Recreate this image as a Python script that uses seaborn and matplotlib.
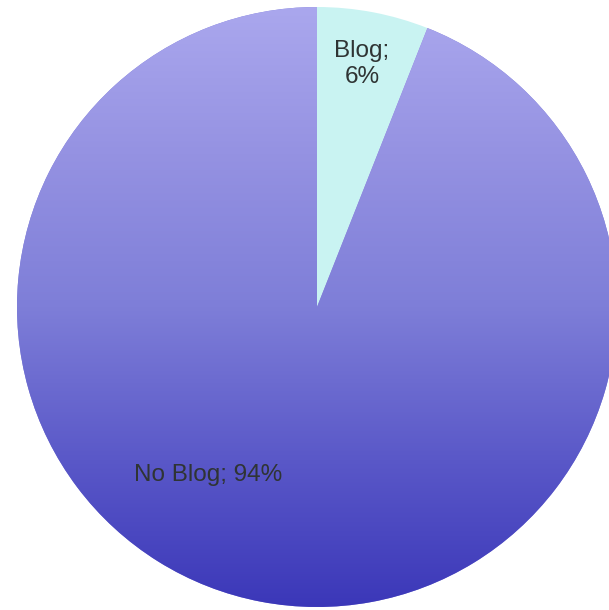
import numpy as np
import matplotlib
matplotlib.use("Agg")
import matplotlib.pyplot as plt
from matplotlib.colors import LinearSegmentedColormap
import seaborn as sns

# data
categories = ["Blog", "No Blog"]
shares = [6, 94]
slice_colors = ["#c9f3f2", "#7d7dd8"]

sns.set_theme(style="white")
plt.rcParams['font.family'] = ['Liberation Sans', 'DejaVu Sans']

fig = plt.figure(figsize=(6.09, 6.10), dpi=100)
ax = fig.add_axes([0, 0, 1, 1])

wedges, _ = ax.pie(shares, colors=slice_colors, startangle=90, counterclock=False,
                   radius=1.0, wedgeprops=dict(linewidth=0))

# vertical gradient on the big slice
grad_cmap = LinearSegmentedColormap.from_list(
    "blue_grad", ["#3a36b8", "#5a58c8", "#7e7ed8", "#9592e2", "#aba8ee"])
grad = np.linspace(0, 1, 256).reshape(-1, 1)
img = ax.imshow(grad, cmap=grad_cmap, origin="lower", aspect="auto",
                extent=(-1.05, 1.05, -1.02, 1.02), zorder=wedges[1].get_zorder() + 0.1)
img.set_clip_path(wedges[1])

# labels
ax.text(0.15, 0.81, f"{categories[0]};\n{shares[0]}%", ha="center", va="center",
        fontsize=17.5, color="#2f3434", linespacing=1.2, zorder=5)
ax.text(-0.363, -0.56, f"{categories[1]}; {shares[1]}%", ha="center", va="center",
        fontsize=17.5, color="#2f3434", zorder=5)

# place circle: center at (317, 307) px, radius 300 px
ax.set_xlim(-317 / 300, (609 - 317) / 300)
ax.set_ylim(-(610 - 307) / 300, 307 / 300)
ax.set_aspect("auto")
ax.axis("off")

fig.savefig("out.png", dpi=100)
